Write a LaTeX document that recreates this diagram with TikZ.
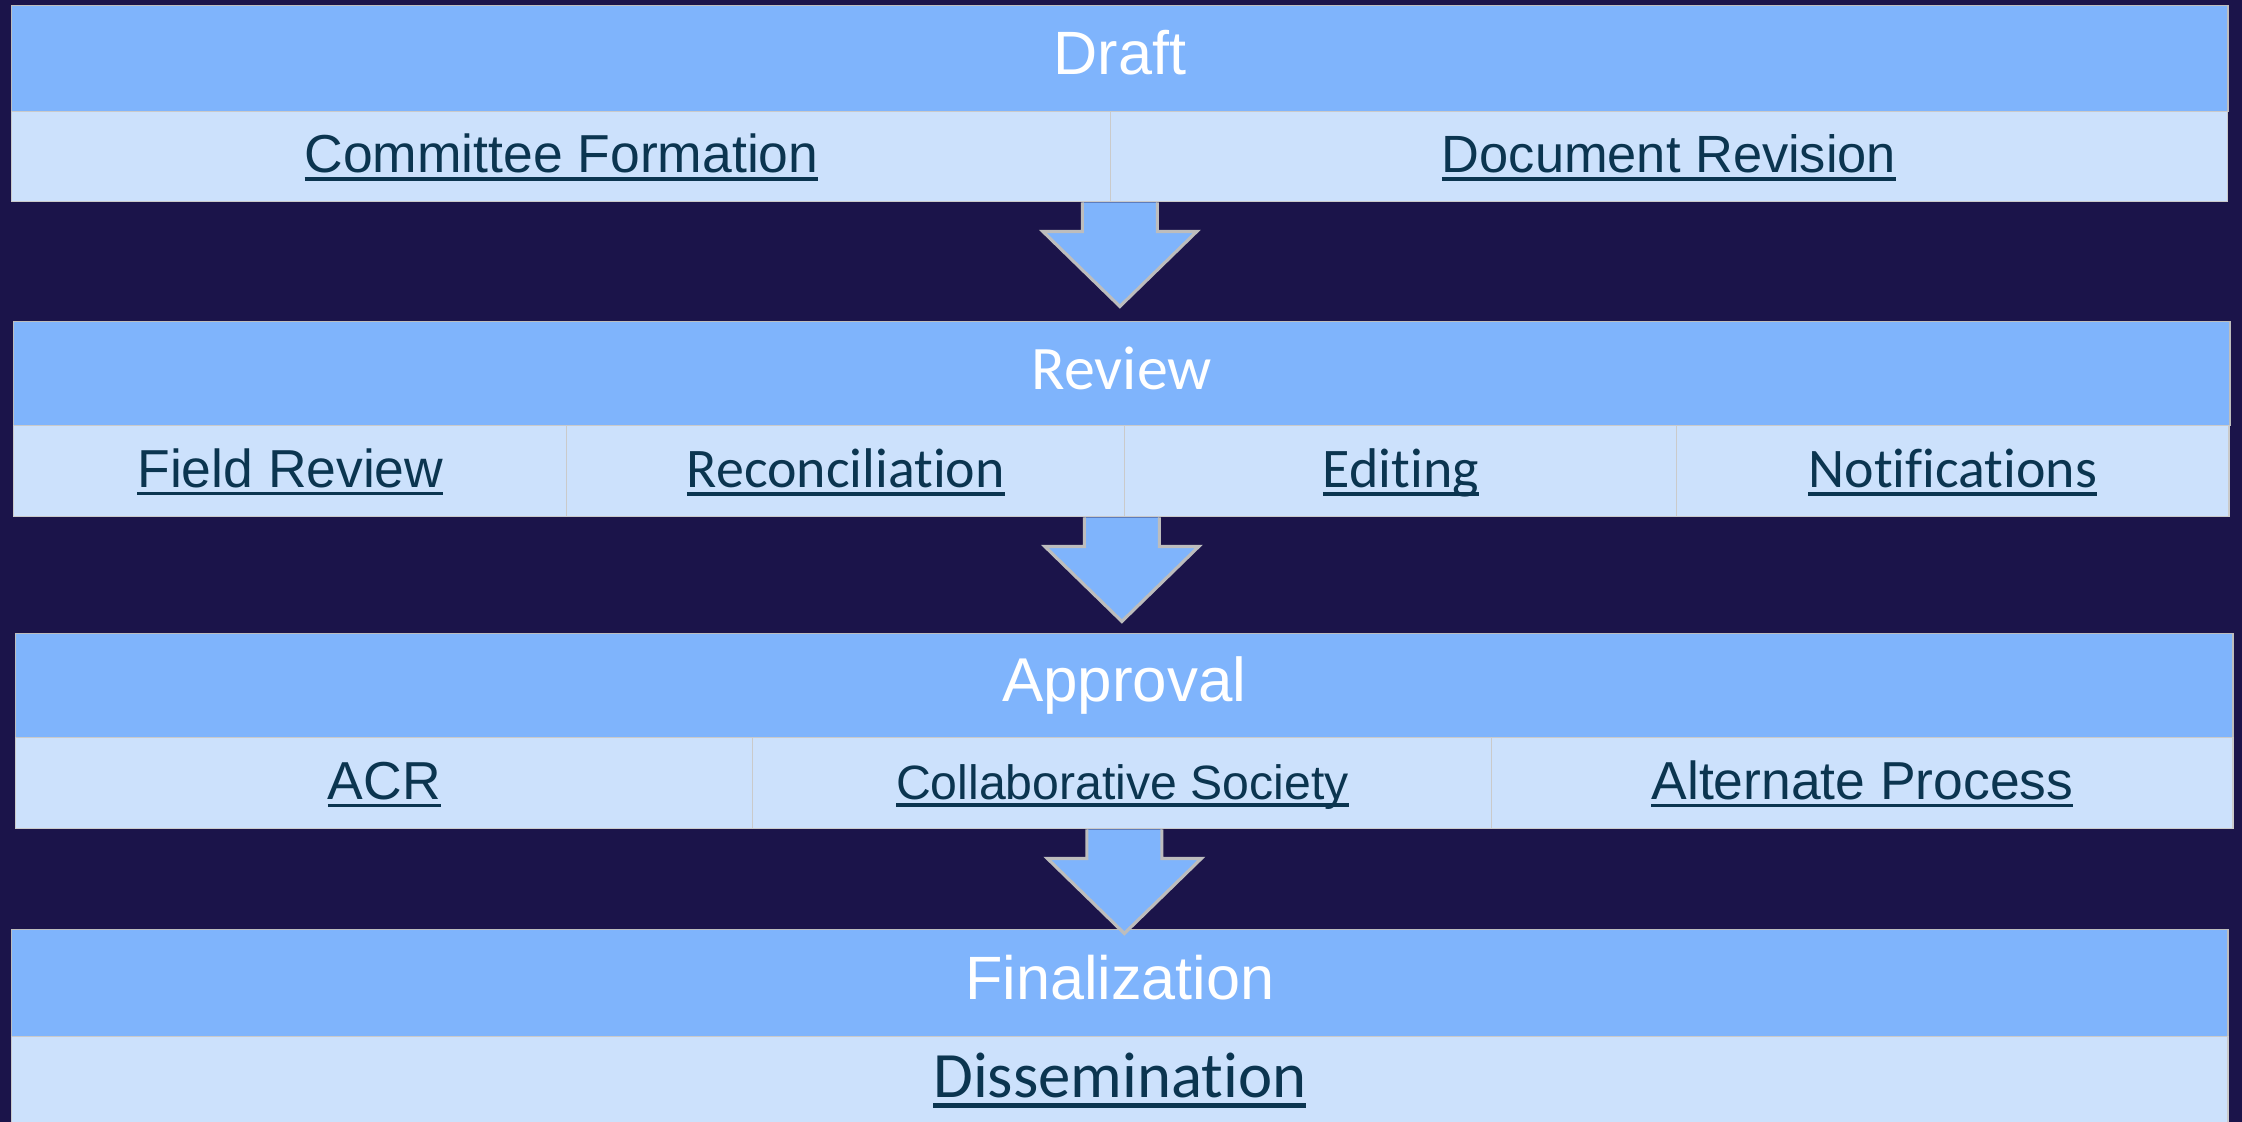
\documentclass[tikz,border=0pt]{standalone}
\usepackage{fontspec}
\setmainfont{Liberation Sans}
\newfontfamily\calibri[RawFeature={-liga;-clig;-calt}]{Carlito}
\usetikzlibrary{calc}

\definecolor{pagebg}{HTML}{1B144A}
\definecolor{headblue}{HTML}{7FB4FC}
\definecolor{cellblue}{HTML}{CCE1FC}
\definecolor{linkink}{HTML}{0B3550}
\definecolor{edgegray}{HTML}{BDBDBD}

% underlined link-style text
\newcommand{\linktext}[1]{\setbox0\hbox{#1}\rlap{\rule[-0.15em]{\wd0}{0.07em}}\box0}
% block arrow hanging below a point
\newcommand{\stagearrow}[1]{%
  \filldraw[blockarrow] ($(#1)+(-37.5,0)$) -- ++(0,29) -- ++(-39.5,0)
    -- ++(77,75) -- ++(77,-75) -- ++(-39.5,0) -- ++(0,-29);}

\begin{document}
\begin{tikzpicture}[
  x=0.01cm, y=-0.01cm,
  head/.style = {draw=edgegray, line width=0.4pt, fill=headblue, text=white,
                 anchor=north west, inner sep=0pt, minimum width=22.15cm,
                 text height=0.96em, text depth=0.04em,
                 font=\fontsize{17.4}{20}\selectfont},
  cell/.style = {draw=edgegray!80, line width=0.4pt, fill=cellblue, text=linkink,
                 anchor=north west, inner sep=0pt, minimum height=0.9cm,
                 text height=0.96em, text depth=0.04em,
                 font=\fontsize{15.2}{18}\selectfont},
  blockarrow/.style = {fill=headblue, draw=edgegray, line width=0.9pt, line join=miter},
]
  \useasboundingbox (0,0) rectangle (2242,1122);
  \fill[pagebg] (0,0) rectangle (2242,1122);

  % Draft
  \node[head, minimum height=1.06cm] (draft) at (11,5) {Draft};
  \node[cell, minimum width=10.99cm] (dA) at (11,111) {\linktext{Committee Formation}};
  \node[cell, minimum width=11.16cm, font=\fontsize{14.9}{18}\selectfont] (dB) at (1110,111) {\linktext{Document Revision}};

  % Review
  \node[head, minimum height=1.04cm, font=\calibri\fontsize{17.6}{20}\selectfont] (review) at (13,321) {Review};
  \node[cell, minimum width=5.53cm, minimum height=0.91cm] (rA) at (13,425) {\linktext{Field Review}};
  \node[cell, minimum width=5.58cm, minimum height=0.91cm, font=\calibri\fontsize{15.9}{18}\selectfont] (rB) at (566,425) {\linktext{Reconciliation}};
  \node[cell, minimum width=5.52cm, minimum height=0.91cm, font=\calibri\fontsize{15.9}{18}\selectfont] (rC) at (1124,425) {\linktext{Editing}};
  \node[cell, minimum width=5.52cm, minimum height=0.91cm, font=\calibri\fontsize{15.9}{18}\selectfont] (rD) at (1676,425) {\linktext{Notifications}};

  % Approval
  \node[head, minimum width=22.16cm, minimum height=1.04cm, font=\fontsize{17.6}{20}\selectfont] (approval) at (15,633) {Approval};
  \node[cell, minimum width=7.37cm, minimum height=0.91cm] (aA) at (15,737) {\linktext{ACR}};
  \node[cell, minimum width=7.39cm, minimum height=0.91cm, font=\fontsize{13.7}{16}\selectfont] (aB) at (752,737) {\linktext{Collaborative Society}};
  \node[cell, minimum width=7.41cm, minimum height=0.91cm] (aC) at (1491,737) {\linktext{Alternate Process}};

  % Finalization
  \node[head, minimum height=1.07cm] (final) at (11,929) {Finalization};
  \node[cell, minimum width=22.15cm, font=\calibri\fontsize{18.4}{22}\selectfont] (fA) at (11,1036) {\linktext{Dissemination}};

  % Arrows between stages
  \coordinate (arr1) at (draft.center |- dA.south);
  \coordinate (arr2) at (review.center |- rA.south);
  \coordinate (arr3) at (approval.center |- aA.south);
  \stagearrow{arr1}
  \stagearrow{arr2}
  \stagearrow{arr3}
\end{tikzpicture}
\end{document}
